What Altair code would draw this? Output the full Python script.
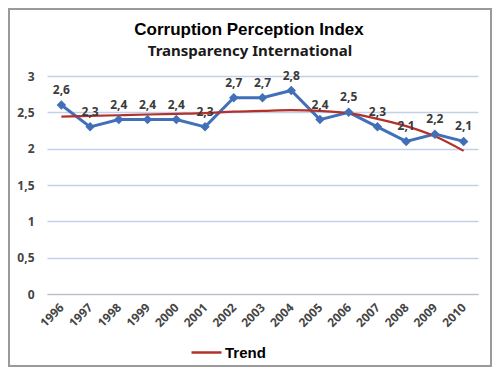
import altair as alt
import pandas as pd

years = [str(y) for y in range(1996, 2011)]
cpi = [2.6, 2.3, 2.4, 2.4, 2.4, 2.3, 2.7, 2.7, 2.8, 2.4, 2.5, 2.3, 2.1, 2.2, 2.1]
trend = [2.44, 2.45, 2.46, 2.47, 2.48, 2.49, 2.51, 2.52, 2.53, 2.52, 2.49, 2.41, 2.31, 2.17, 1.97]
y_ticks = [0, 0.5, 1, 1.5, 2, 2.5, 3]
title_text = "Corruption Perception Index"
subtitle_text = "Transparency International"

df = pd.DataFrame({"year": years, "cpi": cpi, "trend": trend, "series": ["Trend"] * len(years)})

x_axis = alt.Axis(title=None, labelAngle=-45, labelAlign="right", labelBaseline="middle",
                  labelFont="Noto Sans", labelFontSize=12, labelFontWeight="bold",
                  labelColor="#444444", ticks=False, domainColor="#bdbdbd",
                  labelPadding=11, grid=False)
x_scale = alt.Scale(type="point", padding=0.5)
y_scale = alt.Scale(domain=[0, 3], nice=False, zero=True)
y_axis = alt.Axis(title=None, values=y_ticks, format=".1~f",
                  labelExpr="replace(datum.label, '.', ',')", labelOverlap=False,
                  labelFont="Noto Sans", labelFontSize=12, labelFontWeight="bold",
                  labelColor="#444444", labelPadding=13, ticks=False, domain=False,
                  grid=True, gridColor="#c3d0e6", gridWidth=1.3)

x_enc = alt.X("year:O", scale=x_scale, axis=x_axis)
y_cpi = alt.Y("cpi:Q", scale=y_scale, axis=y_axis)
y_trend = alt.Y("trend:Q", scale=y_scale, axis=y_axis)

base = alt.Chart(df)

line = base.mark_line(color="#4170b8", strokeWidth=3).encode(x=x_enc, y=y_cpi)
pts = base.mark_point(shape="diamond", filled=True, size=90, color="#4170b8", opacity=1).encode(
    x=x_enc, y=y_cpi)
labels = base.transform_calculate(
    lbl="replace(format(datum.cpi, '.1f'), '.', ',')"
).mark_text(dy=-15, font="Noto Sans", fontSize=12, fontWeight="bold", color="#3a3a3a").encode(
    x=x_enc, y=y_cpi, text="lbl:N")
trend_line = base.mark_line(strokeWidth=2.2, interpolate="monotone").encode(
    x=x_enc, y=y_trend,
    color=alt.Color("series:N", scale=alt.Scale(domain=["Trend"], range=["#b3302b"]),
                    legend=alt.Legend(title=None, orient="none", legendX=143, legendY=260,
                                      symbolType="stroke", symbolSize=900, symbolStrokeWidth=2.5,
                                      labelFont="Liberation Sans", labelFontSize=15,
                                      labelFontWeight="bold", labelColor="#000000", labelOffset=2)))

deco = alt.Chart(alt.Data(values=[{"a": 1}]))
border = deco.mark_rect(filled=False, stroke="#9a9a9a", strokeWidth=2).encode(
    x=alt.value(-38), x2=alt.value(444), y=alt.value(-67), y2=alt.value(290))
title = deco.mark_text(font="Liberation Sans", fontSize=17, fontWeight="bold", color="#000000",
                       baseline="alphabetic", align="center").encode(
    x=alt.value(202), y=alt.value(-41), text=alt.value(title_text))
subtitle = deco.mark_text(font="Noto Sans", fontSize=15, fontWeight="bold", color="#1a1a1a",
                          baseline="alphabetic", align="center").encode(
    x=alt.value(203), y=alt.value(-20), text=alt.value(subtitle_text))

chart = alt.layer(line, trend_line, pts, labels, border, title, subtitle).properties(
    width=431, height=218,
    autosize=alt.AutoSizeParams(type="none"),
    padding={"left": 39, "top": 68, "right": 14, "bottom": 73},
).configure(background="white").configure_view(stroke=None)

chart.save("out.html", embed_options={"renderer": "svg", "actions": False})
